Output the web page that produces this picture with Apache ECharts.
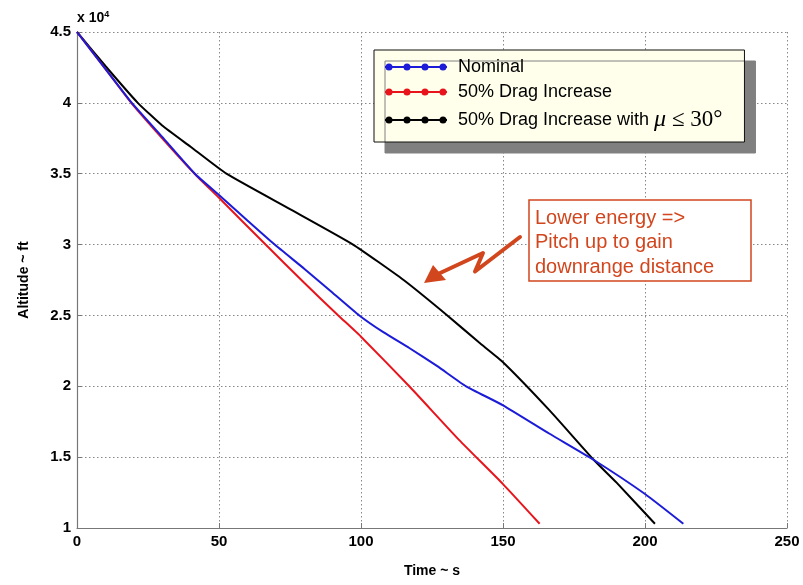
<!DOCTYPE html>
<html><head><meta charset="utf-8">
<script src="https://cdn.jsdelivr.net/npm/echarts@6/dist/echarts.min.js"></script>
<style>html,body{margin:0;padding:0;background:#fff}#c{width:803px;height:585px}</style>
</head><body><div id="c"></div>
<script>
// Altitude in units of 10^4 ft, time in s
const timeNominal = [0, 10, 19.3, 30, 41.5, 50, 60, 69.6, 80, 90, 99.4, 108, 117, 127, 137, 150, 166.4, 182, 200, 213.5];
const altNominal  = [4.5, 4.24, 4.0, 3.76, 3.5, 3.35, 3.17, 3.0, 2.83, 2.66, 2.5, 2.38, 2.27, 2.14, 2.0, 1.866, 1.665, 1.48, 1.24, 1.03];
const timeDrag = [0, 10, 19.1, 30, 41.4, 50, 66.4, 80, 92, 100, 117, 134.6, 150, 162.9];
const altDrag  = [4.5, 4.24, 4.0, 3.75, 3.5, 3.33, 3.0, 2.73, 2.5, 2.35, 2.0, 1.62, 1.31, 1.03];
const timeDragMu = [0, 10, 21.4, 30, 40, 52.6, 75, 97.2, 115, 130.4, 141.5, 150, 166.4, 182, 190, 203.5];
const altDragMu  = [4.5, 4.26, 4.0, 3.84, 3.69, 3.5, 3.25, 3.0, 2.75, 2.5, 2.31, 2.17, 1.83, 1.48, 1.32, 1.03];
const xTicks = [0, 50, 100, 150, 200, 250];
const yTicks = [1, 1.5, 2, 2.5, 3, 3.5, 4, 4.5];
const seriesNames = ['Nominal', '50% Drag Increase', '50% Drag Increase with μ ≤ 30°'];

const pairs = (t, a) => t.map((v, i) => [v, a[i]]);
const font = 'Arial, "Liberation Sans", sans-serif';
const colors = ['#1c1cd8', '#e8141c', '#000000'];
const icon = 'path://M0,4h62v2h-62z' +
  'M0.5,5a3.5,3.5 0 1,1 7,0a3.5,3.5 0 1,1 -7,0z' +
  'M18.5,5a3.5,3.5 0 1,1 7,0a3.5,3.5 0 1,1 -7,0z' +
  'M36.5,5a3.5,3.5 0 1,1 7,0a3.5,3.5 0 1,1 -7,0z' +
  'M54.5,5a3.5,3.5 0 1,1 7,0a3.5,3.5 0 1,1 -7,0z';

const chart = echarts.init(document.getElementById('c'), null, {renderer: 'canvas'});
const data = [pairs(timeNominal, altNominal), pairs(timeDrag, altDrag), pairs(timeDragMu, altDragMu)];
const annColor = '#d2461e';

chart.setOption({
  animation: false,
  backgroundColor: '#fff',
  grid: {left: 77, right: 16, top: 32, bottom: 57, containLabel: false},
  xAxis: {
    type: 'value', min: xTicks[0], max: xTicks[xTicks.length - 1], interval: 50,
    name: 'Time ~ s', nameLocation: 'middle', nameGap: 36,
    nameTextStyle: {fontFamily: font, fontWeight: 'bold', fontSize: 14, color: '#000'},
    axisLine: {show: true, lineStyle: {color: '#777', width: 1.2}},
    axisTick: {show: true, inside: true, length: 5, lineStyle: {color: '#777'}},
    axisLabel: {fontFamily: font, fontWeight: 'bold', fontSize: 15, color: '#000', margin: 6},
    splitLine: {show: true, lineStyle: {color: '#888', type: [1.5, 2.5], width: 1}}
  },
  yAxis: {
    type: 'value', min: yTicks[0], max: yTicks[yTicks.length - 1], interval: 0.5,
    name: 'Altitude ~ ft', nameLocation: 'middle', nameGap: 46, nameRotate: 90,
    nameTextStyle: {fontFamily: font, fontWeight: 'bold', fontSize: 14, color: '#000'},
    axisLine: {show: true, lineStyle: {color: '#777', width: 1.2}},
    axisTick: {show: true, inside: true, length: 5, lineStyle: {color: '#777'}},
    axisLabel: {fontFamily: font, fontWeight: 'bold', fontSize: 15, color: '#000', margin: 6},
    splitLine: {show: true, lineStyle: {color: '#888', type: [1.5, 2.5], width: 1}}
  },
  legend: {
    orient: 'vertical', left: 374, top: 50,
    padding: [8, 22, 10, 11], itemGap: 7,
    itemWidth: 62, itemHeight: 7, icon: icon,
    backgroundColor: '#ffffec', borderColor: '#111', borderWidth: 1,
    shadowColor: '#808080', shadowBlur: 0, shadowOffsetX: 11, shadowOffsetY: 11,
    data: seriesNames.map((n, i) => ({name: n, icon: icon,
      itemStyle: {color: colors[i], borderWidth: 0, opacity: 1}})),
    formatter: function (n) {
      if (n === seriesNames[2]) return '50% Drag Increase with {m|μ}{r| ≤ 30°}';
      return n;
    },
    textStyle: {
      fontFamily: font, fontSize: 18, color: '#000', padding: [0, 0, 0, 6],
      rich: {
        m: {fontFamily: '"Liberation Serif", "Times New Roman", serif', fontStyle: 'italic', fontSize: 24, color: '#000'},
        r: {fontFamily: '"Liberation Serif", "Times New Roman", serif', fontSize: 23, color: '#000'}
      }
    }
  },
  series: seriesNames.map((n, i) => ({
    name: n, type: 'line', data: data[i], smooth: 0.15,
    showSymbol: false, symbol: 'circle',
    lineStyle: {color: colors[i], width: 2}, itemStyle: {color: colors[i]}, z: 5 - i
  })),
  graphic: [
    {type: 'text', left: 77, top: 10, z: 10,
      style: {text: 'x 10{s|4}', fontFamily: font, fontWeight: 'bold', fontSize: 14, fill: '#000',
        rich: {s: {fontFamily: font, fontWeight: 'bold', fontSize: 9, verticalAlign: 'top', padding: [0, 0, 8, 0]}}}},
    {type: 'rect', shape: {x: 529, y: 200, width: 222, height: 81}, z: 10,
      style: {fill: '#fff', stroke: annColor, lineWidth: 1.5}},
    {type: 'text', x: 535, y: 206, z: 11,
      style: {text: 'Lower energy =>\nPitch up to gain\ndownrange distance', fontFamily: font, fontSize: 20,
        lineHeight: 24.5, fill: annColor}},
    {type: 'polyline', z: 10,
      shape: {points: [[520, 237], [475, 271.5], [483, 253], [438, 274]]},
      style: {stroke: annColor, lineWidth: 4, fill: null, lineJoin: 'round', lineCap: 'round'}},
    {type: 'polygon', z: 10,
      shape: {points: [[424, 283], [433, 265], [446, 280]]},
      style: {fill: annColor}}
  ]
});
</script></body></html>
